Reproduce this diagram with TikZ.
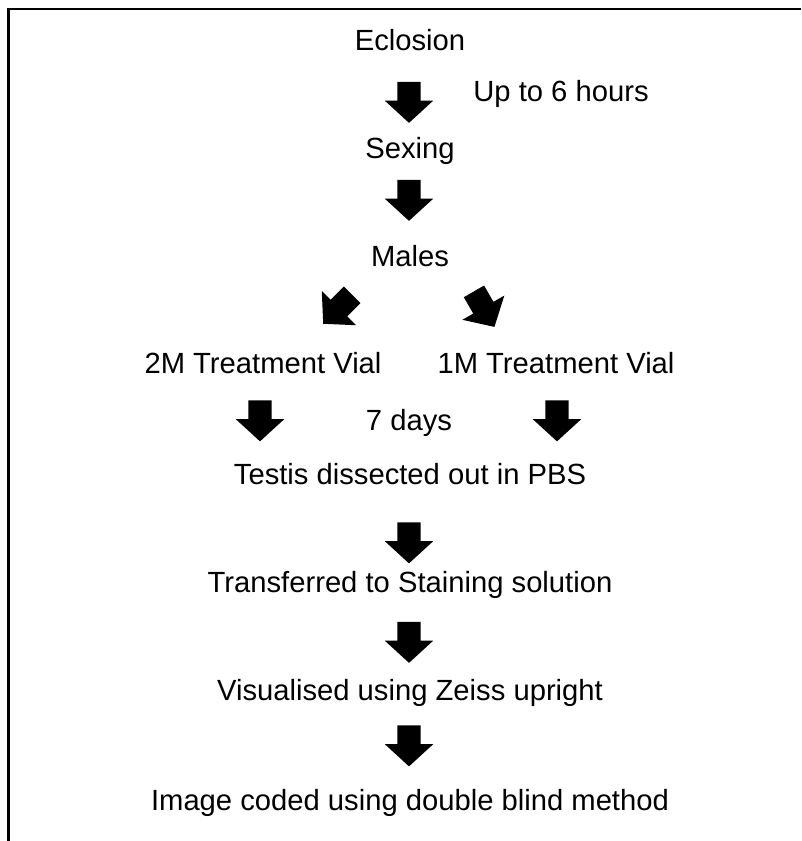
\documentclass[tikz,border=0pt]{standalone}
\usepackage{fontspec}
\setmainfont{Liberation Sans}
\usetikzlibrary{shapes.arrows}
\begin{document}
\begin{tikzpicture}[x=1pt,y=-1pt,
  label/.style={anchor=base,inner sep=0pt,font=\fontsize{29.2}{32}\selectfont},
  blockarrow/.style={single arrow,fill=black,draw=none,
    inner xsep=0pt,inner ysep=11.5pt,
    minimum height=41pt,minimum width=48pt,
    single arrow head extend=12.5pt,single arrow tip angle=95}]
  \useasboundingbox (0,0) rectangle (801,841);
  % open frame: top and left edges only
  \draw[line width=2.3pt] (8.5,841) -- (8.5,9) -- (801,9);

  % steps
  \node[label] (eclosion) at (410,50) {Eclosion};
  \node[label] (hours)    at (561,101) {Up to 6 hours};
  \node[label] (sexing)   at (410,158) {Sexing};
  \node[label] (males)    at (410,266) {Males};
  \node[label] (vial2)    at (263,373) {2M Treatment Vial};
  \node[label] (vial1)    at (556,373) {1M Treatment Vial};
  \node[label] (days)     at (409,430) {7 days};
  \node[label] (testis)   at (410,484) {Testis dissected out in PBS};
  \node[label] (stain)    at (410,592) {Transferred to Staining solution};
  \node[label] (zeiss)    at (410,700) {Visualised using Zeiss upright};
  \node[label] (coded)    at (410,810) {Image coded using double blind method};

  % block arrows between the steps
  \node[blockarrow,rotate=-90]  (a1) at (409,97) {};
  \node[blockarrow,rotate=-90]  (a2) at (409,195) {};
  \node[blockarrow,rotate=-135] (a3) at (341.5,305.5) {};
  \node[blockarrow,rotate=-60]  (a4) at (481.5,304.5) {};
  \node[blockarrow,rotate=-90]  (a5) at (260,415.5) {};
  \node[blockarrow,rotate=-90]  (a6) at (557,415.5) {};
  \node[blockarrow,rotate=-90]  (a7) at (409,537.5) {};
  \node[blockarrow,rotate=-90]  (a8) at (409,637) {};
  \node[blockarrow,rotate=-90]  (a9) at (409,740.5) {};
\end{tikzpicture}
\end{document}
